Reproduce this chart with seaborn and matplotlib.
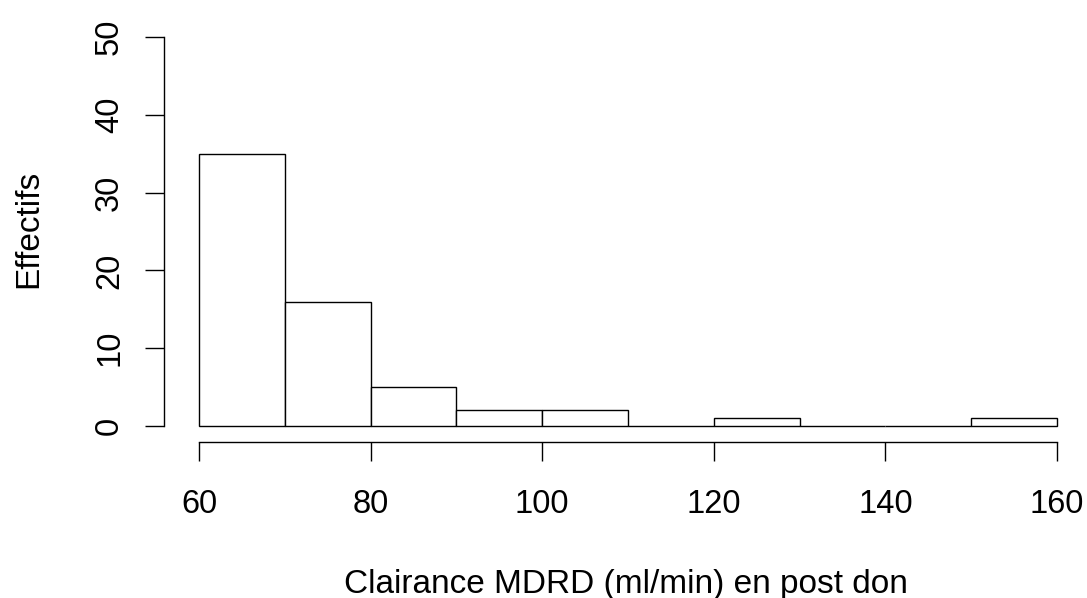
import numpy as np
import matplotlib
matplotlib.use("Agg")
import matplotlib.pyplot as plt
import seaborn as sns

# Data
bin_edges = [60, 70, 80, 90, 100, 110, 120, 130, 140, 150, 160]
counts = [35, 16, 5, 2, 2, 0, 1, 0, 0, 1]
x_ticks = [60, 80, 100, 120, 140, 160]
y_ticks = [0, 10, 20, 30, 40, 50]
x_label = "Clairance MDRD (ml/min) en post don"
y_label = "Effectifs"

sns.set_theme(style="white")
plt.rcParams['font.family'] = ['Liberation Sans', 'DejaVu Sans']

W, H = 1087, 598
fig = plt.figure(figsize=(W / 100, H / 100), dpi=100)
left_px, right_px = 164.0, 1087
top_px, bot_px = 21.4, 441.6
ax = fig.add_axes([left_px / W, 1 - bot_px / H, (right_px - left_px) / W, (bot_px - top_px) / H])

mids = [(a + b) / 2 for a, b in zip(bin_edges[:-1], bin_edges[1:])]
sns.histplot(x=mids, weights=counts, bins=bin_edges, ax=ax,
             color="white", edgecolor="black", linewidth=1.0, alpha=1.0)

ax.set_xlim(60 - (199 - left_px) / 8.58, 60 + (right_px - 199) / 8.58)
ax.set_ylim(-2, 52)
ax.set_xticks(x_ticks)
ax.set_yticks(y_ticks)
ax.set_xticklabels([str(v) for v in x_ticks])
ax.set_yticklabels([str(v) for v in y_ticks], rotation=90, va="center")

for s in ["top", "right"]:
    ax.spines[s].set_visible(False)
for s in ["left", "bottom"]:
    ax.spines[s].set_color("black")
    ax.spines[s].set_linewidth(1.0)
ax.spines["left"].set_bounds(0, 50)
ax.spines["bottom"].set_bounds(60, 160)

ax.tick_params(axis="both", direction="out", length=14, width=1.0, color="black",
               labelsize=23.5, labelcolor="black", left=True, bottom=True)
ax.tick_params(axis="x", pad=20)
ax.tick_params(axis="y", pad=14)
ax.set_xlabel("")
ax.set_ylabel("")
ax.grid(False)

fig.text(626 / W, 5 / H, x_label, ha="center", va="baseline", fontsize=24, color="black")
fig.text(29 / W, 1 - 228.5 / H, y_label, ha="center", va="center", rotation=90, fontsize=24, color="black")

fig.savefig("out.png", dpi=100, facecolor="white")
